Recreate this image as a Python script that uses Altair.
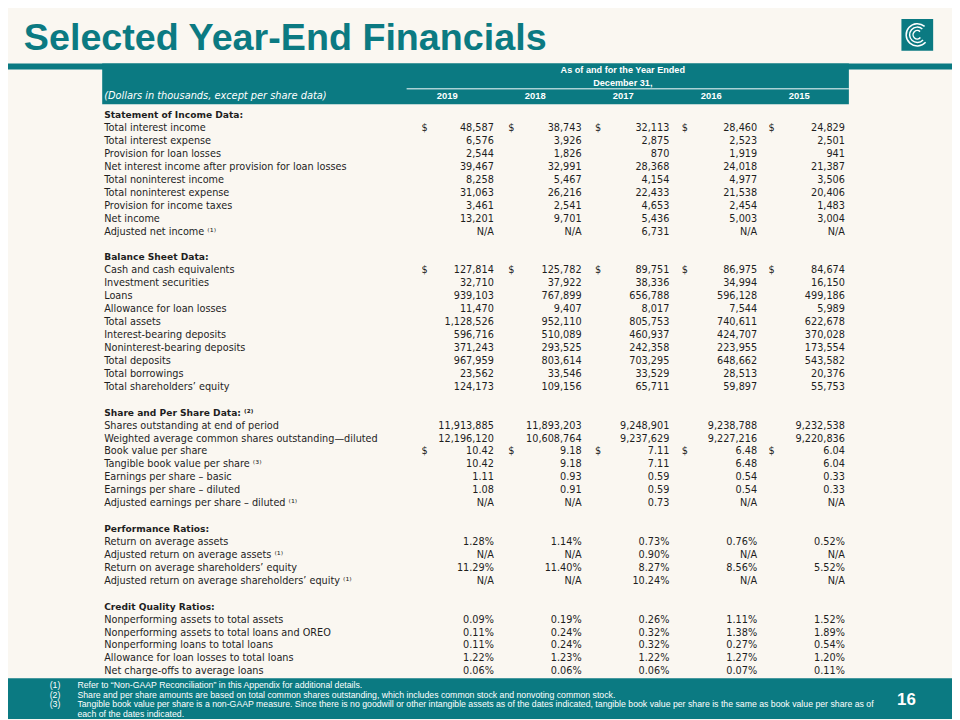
import altair as alt
import pandas as pd

# ---------------- data ----------------
TITLE = "Selected Year-End Financials"
HEAD_LINE1 = "As of and for the Year Ended"
HEAD_LINE2 = "December 31,"
UNITS_NOTE = "(Dollars in thousands, except per share data)"
YEARS = ["2019", "2018", "2017", "2016", "2015"]
PAGE_NUMBER = "16"

income_labels = [
    "Total interest income", "Total interest expense", "Provision for loan losses",
    "Net interest income after provision for loan losses", "Total noninterest income",
    "Total noninterest expense", "Provision for income taxes", "Net income",
    "Adjusted net income ⁽¹⁾",
]
income_values = {
    "2019": ["48,587", "6,576", "2,544", "39,467", "8,258", "31,063", "3,461", "13,201", "N/A"],
    "2018": ["38,743", "3,926", "1,826", "32,991", "5,467", "26,216", "2,541", "9,701", "N/A"],
    "2017": ["32,113", "2,875", "870", "28,368", "4,154", "22,433", "4,653", "5,436", "6,731"],
    "2016": ["28,460", "2,523", "1,919", "24,018", "4,977", "21,538", "2,454", "5,003", "N/A"],
    "2015": ["24,829", "2,501", "941", "21,387", "3,506", "20,406", "1,483", "3,004", "N/A"],
}

balance_labels = [
    "Cash and cash equivalents", "Investment securities", "Loans", "Allowance for loan losses",
    "Total assets", "Interest-bearing deposits", "Noninterest-bearing deposits",
    "Total deposits", "Total borrowings", "Total shareholders’ equity",
]
balance_values = {
    "2019": ["127,814", "32,710", "939,103", "11,470", "1,128,526", "596,716", "371,243", "967,959", "23,562", "124,173"],
    "2018": ["125,782", "37,922", "767,899", "9,407", "952,110", "510,089", "293,525", "803,614", "33,546", "109,156"],
    "2017": ["89,751", "38,336", "656,788", "8,017", "805,753", "460,937", "242,358", "703,295", "33,529", "65,711"],
    "2016": ["86,975", "34,994", "596,128", "7,544", "740,611", "424,707", "223,955", "648,662", "28,513", "59,897"],
    "2015": ["84,674", "16,150", "499,186", "5,989", "622,678", "370,028", "173,554", "543,582", "20,376", "55,753"],
}

share_labels = [
    "Shares outstanding at end of period",
    "Weighted average common shares outstanding—diluted",
    "Book value per share", "Tangible book value per share ⁽³⁾",
    "Earnings per share – basic", "Earnings per share – diluted",
    "Adjusted earnings per share – diluted ⁽¹⁾",
]
share_values = {
    "2019": ["11,913,885", "12,196,120", "10.42", "10.42", "1.11", "1.08", "N/A"],
    "2018": ["11,893,203", "10,608,764", "9.18", "9.18", "0.93", "0.91", "N/A"],
    "2017": ["9,248,901", "9,237,629", "7.11", "7.11", "0.59", "0.59", "0.73"],
    "2016": ["9,238,788", "9,227,216", "6.48", "6.48", "0.54", "0.54", "N/A"],
    "2015": ["9,232,538", "9,220,836", "6.04", "6.04", "0.33", "0.33", "N/A"],
}

perf_labels = [
    "Return on average assets", "Adjusted return on average assets ⁽¹⁾",
    "Return on average shareholders’ equity",
    "Adjusted return on average shareholders’ equity ⁽¹⁾",
]
perf_values = {
    "2019": ["1.28%", "N/A", "11.29%", "N/A"],
    "2018": ["1.14%", "N/A", "11.40%", "N/A"],
    "2017": ["0.73%", "0.90%", "8.27%", "10.24%"],
    "2016": ["0.76%", "N/A", "8.56%", "N/A"],
    "2015": ["0.52%", "N/A", "5.52%", "N/A"],
}

credit_labels = [
    "Nonperforming assets to total assets", "Nonperforming assets to total loans and OREO",
    "Nonperforming loans to total loans", "Allowance for loan losses to total loans",
    "Net charge-offs to average loans",
]
credit_values = {
    "2019": ["0.09%", "0.11%", "0.11%", "1.22%", "0.06%"],
    "2018": ["0.19%", "0.24%", "0.24%", "1.23%", "0.06%"],
    "2017": ["0.26%", "0.32%", "0.32%", "1.22%", "0.06%"],
    "2016": ["1.11%", "1.38%", "0.27%", "1.27%", "0.07%"],
    "2015": ["1.52%", "1.89%", "0.54%", "1.20%", "0.11%"],
}

# section title, labels, values, rows carrying a "$" sign
SECTIONS = [
    ("Statement of Income Data:", income_labels, income_values, [0]),
    ("Balance Sheet Data:", balance_labels, balance_values, [0]),
    ("Share and Per Share Data: ⁽²⁾", share_labels, share_values, [2]),
    ("Performance Ratios:", perf_labels, perf_values, []),
    ("Credit Quality Ratios:", credit_labels, credit_values, []),
]

FOOTNOTE_MARKS = ["(1)", "(2)", "(3)", ""]
FOOTNOTE_TEXTS = [
    "Refer to “Non-GAAP Reconciliation” in this Appendix for additional details.",
    "Share and per share amounts are based on total common shares outstanding, which includes common stock and nonvoting common stock.",
    "Tangible book value per share is a non-GAAP measure. Since there is no goodwill or other intangible assets as of the dates indicated, tangible book value per share is the same as book value per share as of",
    "each of the dates indicated.",
]

# ---------------- styling / layout ----------------
TEAL = "#0B7A82"
BG = "#FAF7F1"
INK = "#1E1E1E"
W, H = 952, 712  # page 960x720 minus the 8px body margin


def pscale_x():
    return alt.Scale(domain=[8, 960], range=[0, W], zero=False, nice=False)


def pscale_y():
    return alt.Scale(domain=[8, 720], range=[0, H], zero=False, nice=False)


def PX(f):
    return alt.X(f, type="quantitative", scale=pscale_x(), axis=None)


def PY(f):
    return alt.Y(f, type="quantitative", scale=pscale_y(), axis=None)


# build the table records from the arrays
head_rows, label_rows, value_rows, dollar_rows = [], [], [], []
r = 0
for title, labels, vals, dollars in SECTIONS:
    head_rows.append({"row": r, "text": title})
    r += 1
    for i, lab in enumerate(labels):
        label_rows.append({"row": r, "text": lab})
        for c, yr in enumerate(YEARS):
            value_rows.append({"row": r, "col": c, "text": vals[yr][i]})
            if i in dollars:
                dollar_rows.append({"row": r, "col": c, "text": "$"})
        r += 1
    r += 1
LAST_ROW = r - 2

ROW_SCALE = alt.Scale(domain=[0, LAST_ROW], range=[113 - 8, 674 - 8], zero=False, nice=False)
VAL_X = alt.Scale(domain=[0, 4], range=[498 - 8, 852 - 8], zero=False, nice=False)
DOL_X = alt.Scale(domain=[0, 4], range=[425 - 8, 775 - 8], zero=False, nice=False)
YEAR_X = alt.Scale(domain=[0, 4], range=[451 - 8, 806 - 8], zero=False, nice=False)

LABEL_X = 105
BODY_SIZE = 9.8

layers = []

# shapes: top band, header block, footer band, logo square
shapes = pd.DataFrame([
    {"x": 0, "x2": 960, "y": 61, "y2": 67},
    {"x": 103, "x2": 856, "y": 61, "y2": 102},
    {"x": 0, "x2": 960, "y": 681, "y2": 722},
    {"x": 909, "x2": 941, "y": 16, "y2": 48},
])
layers.append(
    alt.Chart(shapes).mark_rect(color=TEAL).encode(
        x=PX("x"), x2="x2", y=PY("y"), y2="y2"
    )
)

# logo waves
logo = pd.DataFrame({
    "cx": [925, 925, 925], "cy": [32, 32, 32],
    "r1": [3.5, 7, 10.5], "r2": [5, 8.5, 12],
    "t1": [2.3, 2.3, 2.3], "t2": [7.0, 7.0, 7.0],
})
layers.append(
    alt.Chart(logo).mark_arc(color="white").encode(
        x=PX("cx"), y=PY("cy"),
        theta=alt.Theta("t1:Q", scale=None), theta2="t2:Q",
        radius=alt.Radius("r2:Q", scale=None), radius2="r1:Q",
    )
)

# white rule under "December 31,"
rule = pd.DataFrame([{"x": 410, "x2": 856, "y": 86.5}])
layers.append(
    alt.Chart(rule).mark_rule(color="white", strokeWidth=1).encode(
        x=PX("x"), x2="x2", y=PY("y")
    )
)

# title
layers.append(
    alt.Chart(pd.DataFrame([{"x": 24, "y": 47, "text": TITLE}])).mark_text(
        font="Liberation Sans", fontWeight="bold", fontSize=38, color=TEAL,
        align="left", baseline="alphabetic",
    ).encode(x=PX("x"), y=PY("y"), text="text:N")
)

# header texts
hdr = pd.DataFrame([
    {"x": 628, "y": 67.5, "text": HEAD_LINE1},
    {"x": 628, "y": 80.5, "text": HEAD_LINE2},
])
layers.append(
    alt.Chart(hdr).mark_text(
        font="Liberation Sans", fontWeight="bold", fontSize=9.2, color="white",
        align="center", baseline="middle",
    ).encode(x=PX("x"), y=PY("y"), text="text:N")
)
years_df = pd.DataFrame({"col": list(range(5)), "text": YEARS, "y": [93.5] * 5})
layers.append(
    alt.Chart(years_df).mark_text(
        font="Liberation Sans", fontWeight="bold", fontSize=9.5, color="white",
        align="center", baseline="middle",
    ).encode(x=alt.X("col:Q", scale=YEAR_X, axis=None), y=PY("y"), text="text:N")
)
layers.append(
    alt.Chart(pd.DataFrame([{"x": LABEL_X, "y": 93.5, "text": UNITS_NOTE}])).mark_text(
        font="DejaVu Sans", fontStyle="italic", fontSize=9.9, color="white",
        align="left", baseline="middle",
    ).encode(x=PX("x"), y=PY("y"), text="text:N")
)

# section headers
hd = pd.DataFrame(head_rows)
hd["x"] = LABEL_X
layers.append(
    alt.Chart(hd).mark_text(
        font="DejaVu Sans", fontWeight="bold", fontSize=9.2, color=INK,
        align="left", baseline="middle",
    ).encode(x=PX("x"), y=alt.Y("row:Q", scale=ROW_SCALE, axis=None), text="text:N")
)

# row labels
lb = pd.DataFrame(label_rows)
lb["x"] = LABEL_X
layers.append(
    alt.Chart(lb).mark_text(
        font="DejaVu Sans", fontSize=BODY_SIZE, color=INK,
        align="left", baseline="middle",
    ).encode(x=PX("x"), y=alt.Y("row:Q", scale=ROW_SCALE, axis=None), text="text:N")
)

# values
layers.append(
    alt.Chart(pd.DataFrame(value_rows)).mark_text(
        font="DejaVu Sans", fontSize=BODY_SIZE, color=INK,
        align="right", baseline="middle",
    ).encode(
        x=alt.X("col:Q", scale=VAL_X, axis=None),
        y=alt.Y("row:Q", scale=ROW_SCALE, axis=None),
        text="text:N",
    )
)

# dollar signs
layers.append(
    alt.Chart(pd.DataFrame(dollar_rows)).mark_text(
        font="DejaVu Sans", fontSize=BODY_SIZE, color=INK,
        align="left", baseline="middle",
    ).encode(
        x=alt.X("col:Q", scale=DOL_X, axis=None),
        y=alt.Y("row:Q", scale=ROW_SCALE, axis=None),
        text="text:N",
    )
)

# footnotes
FN_Y = alt.Scale(domain=[0, 3], range=[688 - 8, 717 - 8], zero=False, nice=False)
fm = pd.DataFrame({"line": list(range(4)), "text": FOOTNOTE_MARKS, "x": [50] * 4})
ft = pd.DataFrame({"line": list(range(4)), "text": FOOTNOTE_TEXTS, "x": [78] * 4})
for df in (fm, ft):
    layers.append(
        alt.Chart(df).mark_text(
            font="Liberation Sans", fontSize=8.8, color="white",
            align="left", baseline="middle",
        ).encode(x=PX("x"), y=alt.Y("line:Q", scale=FN_Y, axis=None), text="text:N")
    )

# page number
layers.append(
    alt.Chart(pd.DataFrame([{"x": 914, "y": 703, "text": PAGE_NUMBER}])).mark_text(
        font="Liberation Sans", fontWeight="bold", fontSize=17, color="white",
        align="center", baseline="middle",
    ).encode(x=PX("x"), y=PY("y"), text="text:N")
)

chart = (
    alt.layer(*layers)
    .resolve_scale(x="independent", y="independent")
    .properties(width=W, height=H, padding=0, autosize="none", background=BG)
    .configure_view(stroke=None)
)

chart.save("out.html", embed_options={"renderer": "svg", "actions": False})
